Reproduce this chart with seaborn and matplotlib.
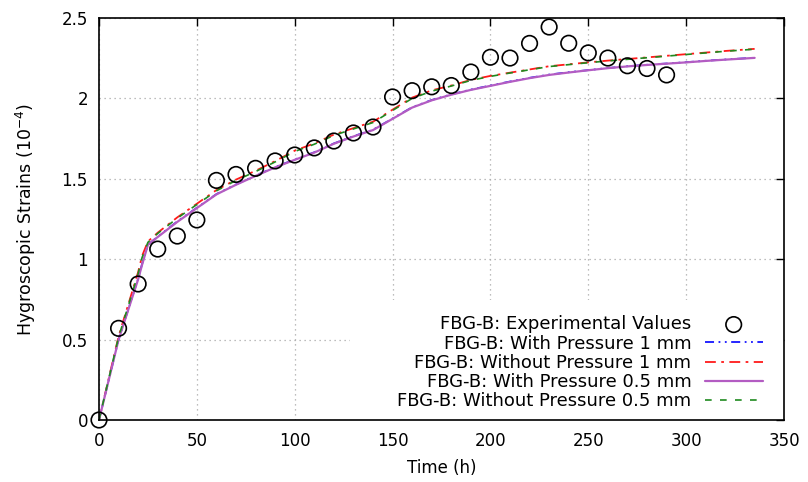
import matplotlib
matplotlib.use("Agg")
import matplotlib.pyplot as plt
from matplotlib.patches import Rectangle
import seaborn as sns
import numpy as np
import pandas as pd

# Measured hygroscopic strain of FBG-B (units of 1e-4)
exp_time = [0, 10, 20, 30, 40, 50, 60, 70, 80, 90, 100, 110, 120, 130, 140,
            150, 160, 170, 180, 190, 200, 210, 220, 230, 240, 250, 260, 270, 280, 290]
exp_strain = [0.0, 0.57, 0.846, 1.063, 1.144, 1.244, 1.49, 1.527, 1.565, 1.611, 1.648,
              1.692, 1.735, 1.785, 1.822, 2.009, 2.048, 2.072, 2.08, 2.164, 2.256, 2.251,
              2.342, 2.444, 2.343, 2.283, 2.251, 2.203, 2.186, 2.146]

# Simulated curves
model_time = [0, 10, 20, 22, 25, 30, 40, 50, 60, 70, 80, 90, 100, 110, 120, 130, 140,
              150, 160, 170, 180, 190, 200, 210, 220, 230, 240, 250, 260, 270, 280,
              290, 300, 310, 320, 335]
with_p_1mm = [0.0, 0.50, 0.88, 0.97, 1.09, 1.14, 1.235, 1.32, 1.405, 1.465, 1.52, 1.573,
              1.62, 1.665, 1.72, 1.765, 1.805, 1.875, 1.945, 1.99, 2.025, 2.055, 2.08,
              2.105, 2.128, 2.148, 2.163, 2.176, 2.189, 2.2, 2.209, 2.217, 2.225, 2.234,
              2.242, 2.253]
without_p_1mm = [0.0, 0.52, 0.92, 1.02, 1.11, 1.165, 1.26, 1.345, 1.43, 1.495, 1.55,
                 1.61, 1.675, 1.72, 1.775, 1.815, 1.855, 1.93, 2.005, 2.05, 2.08, 2.115,
                 2.14, 2.16, 2.18, 2.2, 2.212, 2.224, 2.235, 2.245, 2.255, 2.265, 2.275,
                 2.285, 2.295, 2.308]
with_p_05mm = [0.0, 0.50, 0.875, 0.965, 1.09, 1.138, 1.232, 1.318, 1.403, 1.463, 1.518,
               1.571, 1.618, 1.663, 1.718, 1.763, 1.803, 1.873, 1.943, 1.988, 2.023,
               2.053, 2.078, 2.103, 2.126, 2.146, 2.161, 2.175, 2.188, 2.199, 2.208,
               2.216, 2.224, 2.233, 2.241, 2.252]
without_p_05mm = [0.0, 0.515, 0.91, 1.01, 1.105, 1.16, 1.255, 1.34, 1.425, 1.49, 1.545,
                  1.605, 1.67, 1.715, 1.77, 1.81, 1.85, 1.925, 2.0, 2.045, 2.077, 2.112,
                  2.137, 2.158, 2.178, 2.198, 2.21, 2.222, 2.233, 2.243, 2.253, 2.263,
                  2.273, 2.283, 2.293, 2.306]

labels = ["FBG-B: Experimental Values",
          "FBG-B: With Pressure 1 mm",
          "FBG-B: Without Pressure 1 mm",
          "FBG-B: With Pressure 0.5 mm",
          "FBG-B: Without Pressure 0.5 mm"]

sns.set_theme(style="white")
plt.rcParams["font.family"] = ["DejaVu Sans"]
plt.rcParams["mathtext.fontset"] = "dejavusans"
plt.rcParams["text.color"] = "black"
plt.rcParams["axes.labelcolor"] = "black"

fig = plt.figure(figsize=(8.08, 4.82), dpi=100)
ax = fig.add_axes([99 / 808, 1 - 420 / 482, 685 / 808, 402 / 482])

exp_df = pd.DataFrame({"t": exp_time, "s": exp_strain})
model_df = pd.DataFrame({"t": model_time, "wp1": with_p_1mm, "np1": without_p_1mm,
                         "wp05": with_p_05mm, "np05": without_p_05mm})

sns.scatterplot(data=exp_df, x="t", y="s", ax=ax, marker="o", s=125,
                facecolors="none", edgecolor="black", linewidth=1.2,
                label=labels[0], clip_on=False, zorder=4)
sns.lineplot(data=model_df, x="t", y="wp1", ax=ax, color="#1515ff", lw=1.3,
             linestyle=(0, (5, 2.5, 1, 2.5, 1, 2.5)), label=labels[1], zorder=3)
sns.lineplot(data=model_df, x="t", y="np1", ax=ax, color="#ff1a1a", lw=1.3,
             linestyle=(0, (6, 3, 1.5, 3)), label=labels[2], zorder=3)
sns.lineplot(data=model_df, x="t", y="wp05", ax=ax, color="#b35cc2", lw=1.6,
             linestyle="-", label=labels[3], zorder=3)
sns.lineplot(data=model_df, x="t", y="np05", ax=ax, color="#1f8a1f", lw=1.2,
             linestyle=(0, (4, 5)), label=labels[4], zorder=3)

ax.set_xlim(0, 350)
ax.set_ylim(0, 2.5)
ax.set_xticks(np.arange(0, 351, 50))
ax.set_yticks([0, 0.5, 1, 1.5, 2, 2.5])
ax.set_yticklabels(["0", "0.5", "1", "1.5", "2", "2.5"])

ax.set_axisbelow(True)
ax.grid(True, color="#a8a8a8", linestyle=(0, (1, 3)), linewidth=0.9)

# key area background hides the grid underneath
ax.add_patch(Rectangle((0.366, 0.0), 0.634, 0.2985, transform=ax.transAxes,
                       facecolor="white", edgecolor="none", zorder=1))

for sp in ax.spines.values():
    sp.set_color("black")
    sp.set_linewidth(1.2)
    sp.set_zorder(5)

ax.tick_params(direction="in", length=6, width=1.0, top=True, right=True,
               labelsize=12, colors="black", pad=8)
ax.tick_params(axis="x", pad=9)

ax.set_xlabel("Time (h)", fontsize=12, labelpad=6)
ax.set_ylabel(r"Hygroscopic Strains (10$^{-4}$)", fontsize=12.5, labelpad=17)

leg = ax.legend(loc="lower right", bbox_to_anchor=(0.974, 0.015), frameon=False,
                markerfirst=False, fontsize=13, labelspacing=0.07,
                handlelength=3.2, handletextpad=0.75, borderpad=0.2,
                borderaxespad=0)

fig.savefig("out.png", dpi=100)
